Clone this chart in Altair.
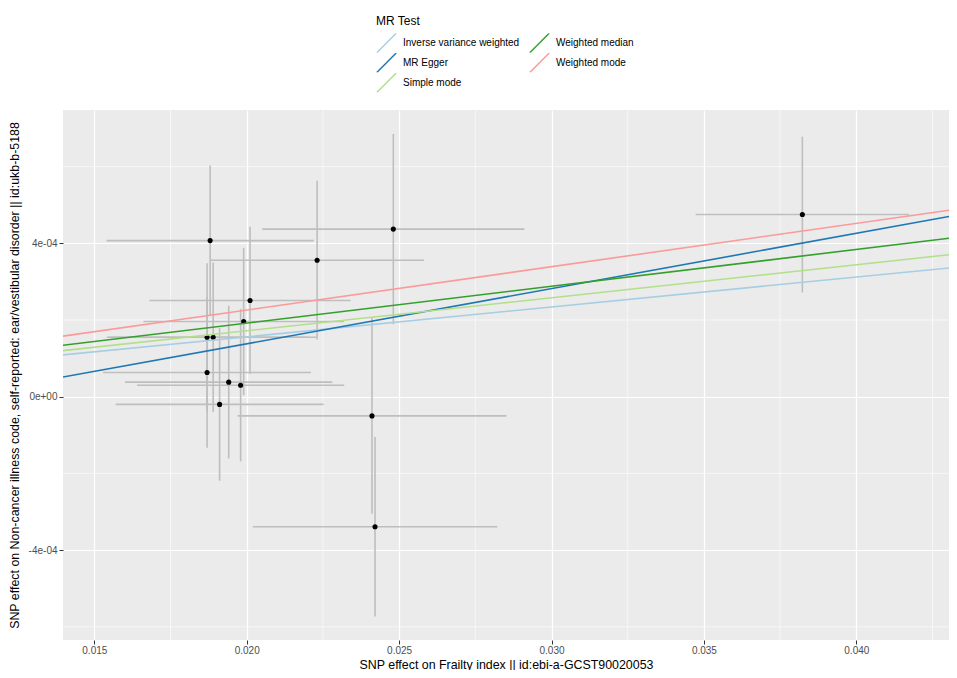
import altair as alt
import pandas as pd

# ---- data ----
methods = ["Inverse variance weighted", "MR Egger", "Simple mode", "Weighted median", "Weighted mode"]
method_colors = ["#a6cee3", "#1f78b4", "#b2df8a", "#33a02c", "#fb9a99"]
intercepts = [0.0, -1.5e-4, 0.0, 0.0, 0.0]
slopes = [0.0078, 0.0144, 0.0086, 0.0096, 0.0113]

beta_exp = [0.01880, 0.02231, 0.02481, 0.03823, 0.02011, 0.01990, 0.01870,
            0.01890, 0.01870, 0.01941, 0.01980, 0.01911, 0.02411, 0.02421]
se_exp = [0.00340, 0.00351, 0.00430, 0.00350, 0.00330, 0.00329, 0.00329,
          0.00339, 0.00341, 0.00340, 0.00340, 0.00341, 0.00441, 0.00401]
beta_out = [4.07e-4, 3.56e-4, 4.37e-4, 4.75e-4, 2.51e-4, 1.96e-4, 1.55e-4,
            1.55e-4, 6.3e-5, 3.8e-5, 3.0e-5, -2.0e-5, -5.0e-5, -3.39e-4]
se_out = [1.96e-4, 2.07e-4, 2.48e-4, 2.03e-4, 1.92e-4, 1.92e-4, 1.93e-4,
          1.95e-4, 1.96e-4, 1.99e-4, 1.99e-4, 1.99e-4, 2.55e-4, 2.34e-4]

x_domain = [0.013973, 0.043041]
y_domain = [-6.344e-4, 7.476e-4]
x_major = [0.015, 0.020, 0.025, 0.030, 0.035, 0.040]
x_minor = [0.0175, 0.0225, 0.0275, 0.0325, 0.0375, 0.0425]
y_major = [-4e-4, 0.0, 4e-4]
y_minor = [-6e-4, -2e-4, 2e-4, 6e-4]

x_title = "SNP effect on Frailty index || id:ebi-a-GCST90020053"
y_title = "SNP effect on Non-cancer illness code, self-reported: ear/vestibular disorder || id:ukb-b-5188"

# ---- tables ----
pts = pd.DataFrame({"bx": beta_exp, "sx": se_exp, "by": beta_out, "sy": se_out})
pts["xlo"] = pts.bx - pts.sx
pts["xhi"] = pts.bx + pts.sx
pts["ylo"] = pts.by - pts.sy
pts["yhi"] = pts.by + pts.sy

rows = []
for m, a, b in zip(methods, intercepts, slopes):
    for xv in x_domain:
        rows.append({"method": m, "x": xv, "y": a + b * xv})
lines = pd.DataFrame(rows)

xs = alt.Scale(domain=x_domain, nice=False, zero=False)
ys = alt.Scale(domain=y_domain, nice=False, zero=False)

xaxis = alt.Axis(values=x_major, format=".3f", grid=True, tickSize=4, labelPadding=1,
                 titlePadding=3, domain=False)
yaxis = alt.Axis(values=y_major, grid=True, tickSize=4, labelPadding=2, titlePadding=7,
                 domain=False, titleLimit=700,
                 labelExpr="datum.value > 0.0001 ? '4e-04' : (datum.value < -0.0001 ? '-4e-04' : '0e+00')")


def X(field):
    return alt.X(field, type="quantitative", scale=xs, axis=xaxis, title=x_title)


def Y(field):
    return alt.Y(field, type="quantitative", scale=ys, axis=yaxis, title=y_title)


grid_x = alt.Chart(pd.DataFrame({"v": x_minor})).mark_rule(color="white", strokeWidth=0.6).encode(x=X("v"))
grid_y = alt.Chart(pd.DataFrame({"v": y_minor})).mark_rule(color="white", strokeWidth=0.6).encode(y=Y("v"))

vbars = alt.Chart(pts).mark_rule(color="#bebebe", strokeWidth=1.6).encode(
    x=X("bx"), y=Y("ylo"), y2="yhi")
hbars = alt.Chart(pts).mark_rule(color="#bebebe", strokeWidth=1.6).encode(
    x=X("xlo"), x2="xhi", y=Y("by"))
dots = alt.Chart(pts).mark_circle(color="black", size=26, opacity=1).encode(
    x=X("bx"), y=Y("by"))

fits = alt.Chart(lines).mark_line(strokeWidth=1.6, clip=True).encode(
    x=X("x"), y=Y("y"),
    detail="method:N",
    color=alt.Color("method:N",
                    scale=alt.Scale(domain=methods, range=method_colors),
                    legend=alt.Legend(title="MR Test", orient="none", legendX=313, legendY=-94,
                                      columns=2, symbolType="M-1,1L1,-1", symbolSize=376,
                                      symbolStrokeWidth=1.5, rowPadding=0, columnPadding=9,
                                      clipHeight=19.5,
                                      labelOffset=6, titlePadding=5, padding=0,
                                      labelFontSize=10, titleFontSize=12,
                                      titleFontWeight="normal", labelColor="black",
                                      titleColor="black", labelLimit=300)),
)

chart = alt.layer(grid_x, grid_y, vbars, hbars, dots, fits).properties(
    width=886, height=530,
    autosize=alt.AutoSizeParams(type="none"),
    padding={"left": 55, "top": 102, "right": 0, "bottom": 30},
).configure(font="Liberation Sans").configure_view(
    fill="#ebebeb", stroke=None
).configure_axis(
    gridColor="white", gridWidth=1.2, tickColor="#333333", tickWidth=1,
    labelColor="#4d4d4d", labelFontSize=10, titleFontSize=12.4,
    titleFontWeight="normal", titleColor="black"
)

chart.save("out.html", embed_options={"renderer": "svg", "actions": False})
